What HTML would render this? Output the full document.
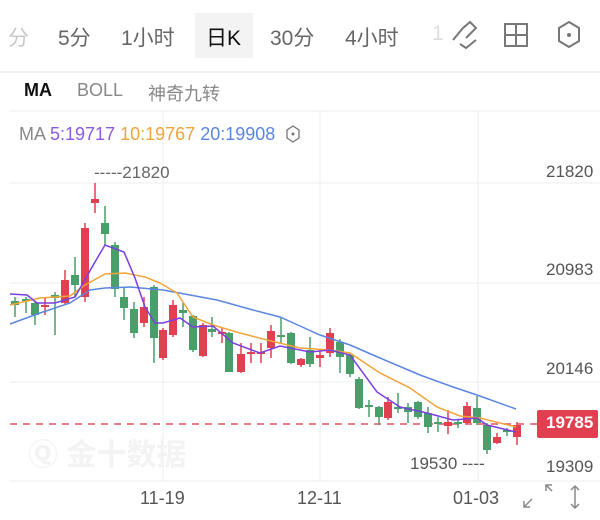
<!DOCTYPE html>
<html><head><meta charset="utf-8"><style>
body{margin:0;width:600px;height:520px;background:#fff;overflow:hidden;font-family:"Liberation Sans","Noto Sans CJK SC",sans-serif;position:relative}
.t{position:absolute;white-space:nowrap}
</style></head><body>
<div class="t" style="left:195px;top:13px;width:58px;height:45px;background:#f3f3f3"></div>
<div class="t" style="left:8px;top:22px;font-size:21px;color:#c8c8c8">分</div>
<div class="t" style="left:58px;top:22px;font-size:21px;color:#666">5分</div>
<div class="t" style="left:121px;top:22px;font-size:21px;color:#666">1小时</div>
<div class="t" style="left:206px;top:22px;font-size:21px;color:#111">日K</div>
<div class="t" style="left:270px;top:22px;font-size:21px;color:#666">30分</div>
<div class="t" style="left:345px;top:22px;font-size:21px;color:#666">4小时</div>
<div class="t" style="left:432px;top:22px;font-size:21px;color:#ddd">1</div>
<svg class="t" style="left:0;top:0" width="600" height="520">
<g fill="none" stroke="#777" stroke-width="2">
<path d="M453 40 L463 28 L470 22 L476 28 L466 38 M460 44 L466 48 L476 40"/>
<rect x="505" y="24" width="22" height="22"/><path d="M516 24V46M505 35H527"/>
<path d="M569 22 L579 28 V41 L569 47 L559 41 V28 Z"/>
<path d="M293 126 L299 130 V138 L293 142 L287 138 V130 Z" stroke-width="1.3"/>
</g>
<circle cx="569" cy="35" r="2" fill="#777"/><circle cx="293" cy="134" r="1.5" fill="#777"/>
<line x1="0" y1="72" x2="600" y2="72" stroke="#f0f0f0" stroke-width="2"/>
<g stroke="#ececec" stroke-width="1">
<line x1="10" y1="111" x2="600" y2="111"/>
<line x1="10" y1="183" x2="600" y2="183"/><line x1="10" y1="283" x2="600" y2="283"/>
<line x1="10" y1="382" x2="600" y2="382"/><line x1="10" y1="481" x2="600" y2="481"/>
<line x1="163" y1="111" x2="163" y2="481"/><line x1="320" y1="111" x2="320" y2="481"/><line x1="478" y1="111" x2="478" y2="481"/>
</g>
<line x1="10" y1="424" x2="537" y2="424" stroke="#e05560" stroke-width="1.5" stroke-dasharray="7,6"/>
<g id="c"></g>
<polyline fill="none" stroke="#5b86e0" stroke-width="1.5" points="10,324 40,313 70,303 90,290 105,288 130,287 163,290 217,300 253,310 280,317 300,326 320,335 350,345 380,358 420,375 453,387 477,395 516,409"/>
<polyline fill="none" stroke="#f0a43a" stroke-width="1.5" points="10,305 40,298 70,296 85,285 105,274 125,273 145,277 160,283 177,293 193,317 213,325 240,333 267,340 300,348 330,350 350,353 380,373 410,388 437,407 460,416 480,418 516,427"/>
<polyline fill="none" stroke="#7a3fe0" stroke-width="1.5" points="10,294 27,295 37,303 55,303 75,297 95,262 105,245 124,252 135,278 145,307 155,323 163,323 180,318 193,327 213,326 233,343 260,353 280,346 310,352 330,350 350,355 377,392 400,407 427,413 453,420 477,418 487,425 516,432"/>
<g stroke="#888" stroke-width="1.5" fill="none">
<path d="M524 507l8-8M524 501v6h6M546 485l6 6M546 491v-6h6"/>
<path d="M575 486v22M571 490l4-4 4 4M571 504l4 4 4-4"/></g>
<rect x="537" y="410" width="61" height="28" rx="2" fill="#e04050"/>
</svg>
<div class="t" style="left:24px;top:80px;font-size:18px;color:#111;font-weight:bold">MA</div>
<div class="t" style="left:77px;top:80px;font-size:18px;color:#888">BOLL</div>
<div class="t" style="left:148px;top:80px;font-size:18px;color:#888">神奇九转</div>
<div class="t" style="left:19px;top:124px;font-size:18px;color:#888">MA <span style="color:#8a5be0">5:19717</span> <span style="color:#f0a43a">10:19767</span> <span style="color:#5b86e0">20:19908</span></div>
<div class="t" style="left:94px;top:163px;font-size:17px;color:#666">-----21820</div>
<div class="t" style="left:546px;top:162px;font-size:17px;color:#555">21820</div>
<div class="t" style="left:546px;top:260px;font-size:17px;color:#555">20983</div>
<div class="t" style="left:546px;top:359px;font-size:17px;color:#555">20146</div>
<div class="t" style="left:546px;top:457px;font-size:17px;color:#555">19309</div>
<div class="t" style="left:546px;top:413px;font-size:17px;color:#fff;font-weight:bold">19785</div>
<div class="t" style="left:410px;top:454px;font-size:17px;color:#555">19530 ----</div>
<div class="t" style="left:140px;top:488px;font-size:18px;color:#555">11-19</div>
<div class="t" style="left:297px;top:488px;font-size:18px;color:#555">12-11</div>
<div class="t" style="left:453px;top:488px;font-size:18px;color:#555">01-03</div>
<div class="t" style="left:28px;top:430px;font-size:30px;color:#f3f3f3;font-weight:bold">Ⓠ 金十数据</div>
<script>
var d=[[15,'g',301,305,297,317],[26,'g',299,301,297,313],[35,'g',303,315,301,325],[45,'r',305,307,298,315],[55,'g',295,298,292,335],[65,'r',280,303,270,305],[75,'g',275,285,257,297],[85,'r',228,297,223,302],[95,'r',199,203,183,213],[105,'g',223,234,206,245],[115,'g',245,289,242,297],[124,'g',297,308,287,320],[134,'g',309,333,302,338],[144,'r',307,323,297,327],[154,'g',287,338,285,363],[163,'r',330,358,328,360],[173,'r',305,335,300,337],[183,'g',310,313,303,327],[193,'g',316,350,315,352],[203,'r',325,356,323,357],[212,'g',329,332,317,337],[222,'r',332,334,327,343],[229,'g',333,372,332,372],[241,'r',354,372,343,373],[251,'r',352,354,343,363],[261,'r',352,354,343,363],[271,'r',331,348,325,358],[281,'g',335,337,317,343],[291,'g',333,363,332,364],[301,'r',359,365,358,367],[310,'g',350,364,337,367],[320,'r',355,358,350,367],[330,'r',333,353,328,357],[340,'g',342,357,339,373],[350,'g',355,374,353,377],[359,'g',379,408,377,409],[369,'g',405,407,400,417],[379,'g',407,417,406,425],[388,'r',402,418,397,420],[398,'g',407,409,393,413],[408,'g',407,412,403,423],[418,'g',402,417,401,419],[428,'g',413,427,407,433],[438,'g',422,424,417,432],[448,'r',422,426,410,434],[458,'g',422,424,419,428],[467,'r',406,423,402,424],[477,'g',408,423,396,425],[487,'g',425,450,423,454],[497,'r',437,443,433,444],[507,'g',430,432,428,436],[517,'r',425,437,422,445]];
var s='';d.forEach(function(c){var col=c[1]=='g'?'#4a9e6a':'#e04050';s+='<line x1="'+c[0]+'" x2="'+c[0]+'" y1="'+c[4]+'" y2="'+c[5]+'" stroke="'+col+'" stroke-width="1.5"/><rect x="'+(c[0]-4)+'" y="'+c[2]+'" width="8" height="'+Math.max(2,c[3]-c[2])+'" fill="'+col+'"/>';});
document.getElementById('c').innerHTML=s;
</script>
</body></html>
